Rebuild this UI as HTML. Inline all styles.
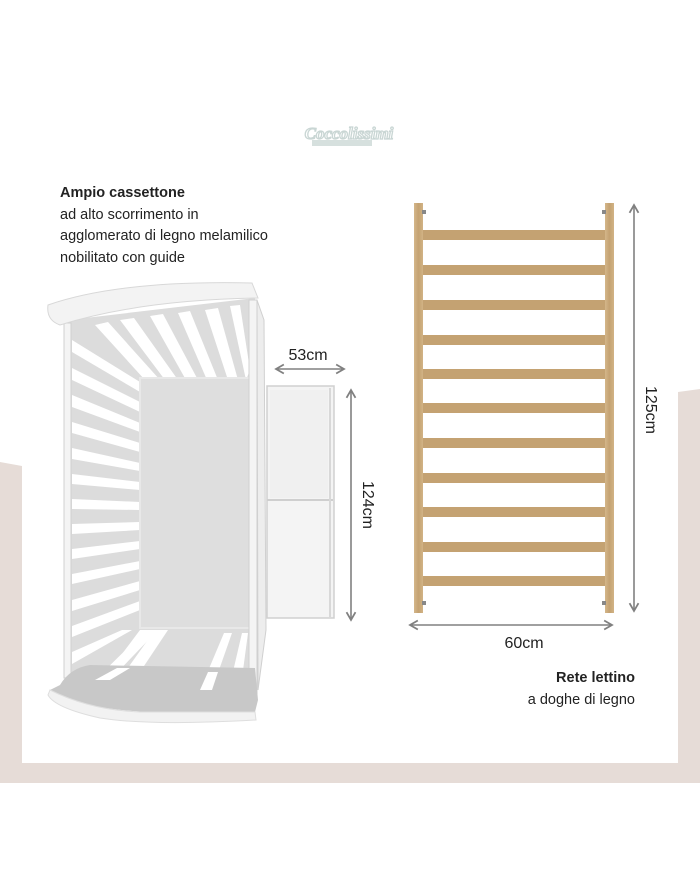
<!DOCTYPE html>
<html><head><meta charset="utf-8"><style>
html,body{margin:0;padding:0;background:#fff;}
body{width:700px;height:869px;position:relative;overflow:hidden;font-family:"Liberation Sans",sans-serif;}
.t{position:absolute;color:#222;font-size:14.5px;line-height:21.5px;}
</style></head><body>
<svg width="700" height="869" style="position:absolute;left:0;top:0">
<defs>
<linearGradient id="wood" x1="0" x2="1"><stop offset="0" stop-color="#d4b68a"/><stop offset=".5" stop-color="#c4a272"/><stop offset="1" stop-color="#d2b385"/></linearGradient>
<marker id="ah" viewBox="0 0 10 10" refX="8" refY="5" markerWidth="7" markerHeight="7" orient="auto-start-reverse"><path d="M1,1 L8,5 L1,9" fill="none" stroke="#808080" stroke-width="1.6"/></marker>
</defs>
<polygon points="0,462 22,466 22,763 0,763" fill="#e6dcd7"/>
<polygon points="678,392 700,389 700,763 678,763" fill="#e6dcd7"/>
<rect x="0" y="763" width="700" height="20" fill="#e6dcd7"/>
<rect x="312" y="140" width="60" height="6" fill="#d6e0de"/>
<text x="349" y="139" text-anchor="middle" font-family="Liberation Serif" font-style="italic" font-weight="bold" font-size="17" fill="#fff" stroke="#c9d6d4" stroke-width="1.3">Coccolissimi</text>
<polygon points="68,320 255,298 262,640 255,700 70,690" fill="#dcdcdc"/>
<g fill="#fff">
<polygon points="95,325 108,322 160,380 145,380"/>
<polygon points="120,320 134,318 178,380 165,380"/>
<polygon points="150,316 163,314 198,380 186,380"/>
<polygon points="178,313 190,311 218,380 207,380"/>
<polygon points="205,310 218,308 238,380 228,380"/>
<polygon points="230,306 240,305 250,370 246,380"/>
<polygon points="72,340 72,352 140,392 140,382"/>
<polygon points="72,368 72,380 140,412 140,402"/>
<polygon points="72,395 72,407 140,432 140,423"/>
<polygon points="72,422 72,433 140,452 140,443"/>
<polygon points="72,448 72,459 140,471 140,463"/>
<polygon points="72,474 72,484 140,490 140,482"/>
<polygon points="72,499 72,509 140,510 140,502"/>
<polygon points="72,524 72,534 140,530 140,522"/>
<polygon points="72,549 72,559 140,549 140,541"/>
<polygon points="72,574 72,584 140,569 140,561"/>
<polygon points="72,600 72,611 140,590 140,581"/>
<polygon points="72,626 72,637 140,610 140,601"/>
<polygon points="72,652 72,664 132,630 122,630"/>
<polygon points="110,670 122,668 150,630 140,630"/>
<polygon points="95,680 110,680 158,630 146,630"/>
<polygon points="112,690 128,690 168,630 155,630"/>
<polygon points="200,690 212,690 232,633 224,633"/>
<polygon points="228,693 240,693 248,633 242,633"/>
</g>
<rect x="140" y="378" width="110" height="250" fill="#dedede"/>
<rect x="140" y="378" width="110" height="250" fill="none" stroke="#e8e8e8" stroke-width="2"/>
<rect x="64" y="323" width="7" height="355" fill="#f4f4f4" stroke="#d0d0d0" stroke-width="1"/>
<rect x="249" y="300" width="8" height="398" fill="#f4f4f4" stroke="#d0d0d0" stroke-width="1"/>
<polygon points="257,300 264,320 266,630 258,690" fill="#ededed" stroke="#d0d0d0"/>
<path d="M48,305 Q120,280 252,283 L258,298 Q140,300 60,325 Q46,320 48,305 Z" fill="#f3f3f3" stroke="#d8d8d8"/>
<path d="M60,685 Q70,668 90,665 L255,668 L258,700 L255,712 Q150,716 100,707 Q60,700 50,690 Z" fill="#c8c8c8"/>
<path d="M50,690 Q90,710 140,712 L255,712 L256,720 Q150,726 100,718 Q55,708 48,695 Z" fill="#f2f2f2" stroke="#dedede"/>
<g fill="#fff"><polygon points="95,680 110,680 130,668 117,668"/><polygon points="200,690 212,690 218,672 208,672"/></g>
<rect x="267" y="386" width="67" height="232" fill="#f4f4f4" stroke="#d0d0d0" stroke-width="1.5"/>
<rect x="270" y="390" width="58" height="108" fill="#f0f0f0"/>
<line x1="267" y1="500" x2="333" y2="500" stroke="#cfcfcf" stroke-width="2"/>
<line x1="330" y1="388" x2="330" y2="617" stroke="#d8d8d8" stroke-width="2"/>
<line x1="276" y1="369" x2="344" y2="369" stroke="#808080" stroke-width="1.6" marker-start="url(#ah)" marker-end="url(#ah)"/>
<line x1="351" y1="390" x2="351" y2="620" stroke="#808080" stroke-width="1.6" marker-start="url(#ah)" marker-end="url(#ah)"/>
<text x="308" y="360" text-anchor="middle" font-size="16" fill="#222">53cm</text>
<text transform="translate(363,505) rotate(90)" text-anchor="middle" font-size="16" fill="#222">124cm</text>
<rect x="414" y="203" width="9" height="410" fill="url(#wood)"/>
<rect x="605" y="203" width="9" height="410" fill="url(#wood)"/>
<g fill="#c4a272">
<rect x="423" y="230" width="182" height="10"/>
<rect x="423" y="265" width="182" height="10"/>
<rect x="423" y="300" width="182" height="10"/>
<rect x="423" y="335" width="182" height="10"/>
<rect x="423" y="369" width="182" height="10"/>
<rect x="423" y="403" width="182" height="10"/>
<rect x="423" y="438" width="182" height="10"/>
<rect x="423" y="473" width="182" height="10"/>
<rect x="423" y="507" width="182" height="10"/>
<rect x="423" y="542" width="182" height="10"/>
<rect x="423" y="576" width="182" height="10"/>
</g>
<g fill="#888"><rect x="422" y="210" width="4" height="4"/><rect x="602" y="210" width="4" height="4"/><rect x="422" y="601" width="4" height="4"/><rect x="602" y="601" width="4" height="4"/></g>
<line x1="634" y1="205" x2="634" y2="611" stroke="#808080" stroke-width="1.6" marker-start="url(#ah)" marker-end="url(#ah)"/>
<line x1="410" y1="625" x2="612" y2="625" stroke="#808080" stroke-width="1.6" marker-start="url(#ah)" marker-end="url(#ah)"/>
<text x="524" y="648" text-anchor="middle" font-size="16" fill="#222">60cm</text>
<text transform="translate(646,410) rotate(90)" text-anchor="middle" font-size="16" fill="#222">125cm</text>
</svg>
<div class="t" style="left:60px;top:183px;"><b>Ampio cassettone</b><br>ad alto scorrimento in<br>agglomerato di legno melamilico<br>nobilitato con guide</div>
<div class="t" style="right:65px;top:668px;text-align:right;"><b>Rete lettino</b><br>a doghe di legno</div>
</body></html>
